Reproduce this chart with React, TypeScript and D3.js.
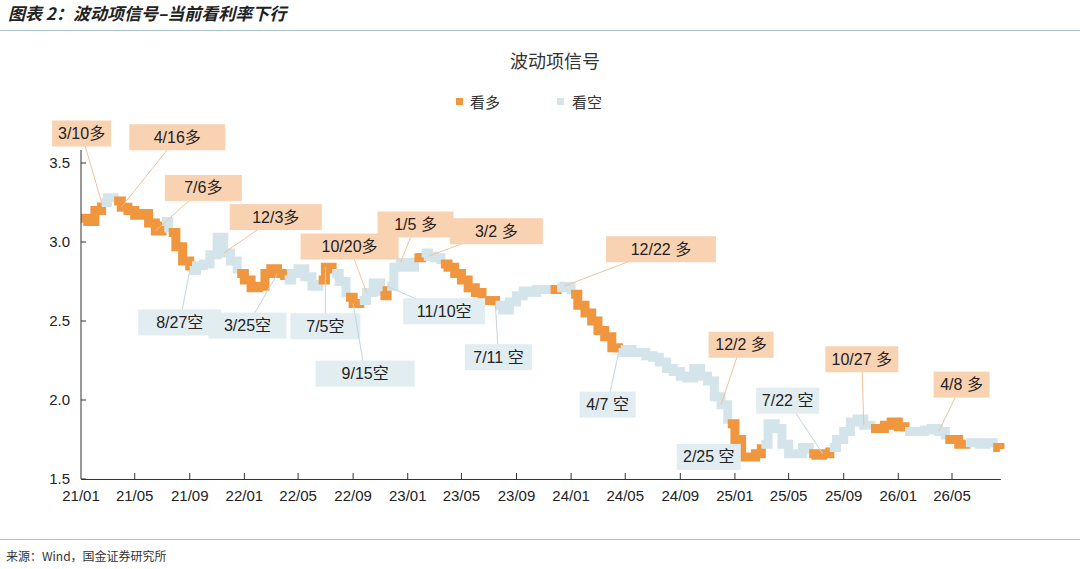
import * as d3 from "d3";

// half-month samples starting 2021-01-01 (1st and 16th of each month)
const rates = [
  3.15, 3.13, 3.2, 3.25, 3.28, 3.26, 3.22, 3.2, 3.17, 3.18, 3.12, 3.07, 3.13, 3.06, 2.97, 2.88,
  2.82, 2.85, 2.86, 2.92, 3.03, 2.93, 2.88, 2.8, 2.76, 2.71, 2.72, 2.8, 2.83, 2.8, 2.76, 2.8,
  2.83, 2.78, 2.72, 2.76, 2.84, 2.8, 2.75, 2.65, 2.61, 2.63, 2.68, 2.74, 2.66, 2.72, 2.84, 2.87,
  2.84, 2.9, 2.93, 2.91, 2.9, 2.86, 2.84, 2.8, 2.76, 2.71, 2.68, 2.63, 2.63, 2.6, 2.57, 2.62,
  2.66, 2.69, 2.68, 2.7, 2.7, 2.7, 2.71, 2.72, 2.67, 2.6, 2.55, 2.5, 2.44, 2.4, 2.33, 2.3,
  2.32, 2.3, 2.3, 2.28, 2.27, 2.24, 2.2, 2.18, 2.15, 2.14, 2.2, 2.15, 2.12, 2.02, 1.97, 1.85,
  1.75, 1.64, 1.64, 1.66, 1.72, 1.85, 1.82, 1.72, 1.66, 1.66, 1.7, 1.66, 1.65, 1.66, 1.7, 1.75,
  1.8, 1.86, 1.88, 1.84, 1.82, 1.82, 1.84, 1.86, 1.83, 1.8, 1.8, 1.8, 1.81, 1.82, 1.8, 1.75,
  1.75, 1.72, 1.73, 1.73, 1.72, 1.73, 1.7, 1.69,
];
const dates = rates.map((_, i) => new Date(2021, Math.floor(i / 2), i % 2 ? 16 : 1));

// signal switches: date and direction
const signalDates = [
  "2021-01-01", "2021-02-12", "2021-03-12", "2021-04-03", "2021-04-16", "2021-06-22", "2021-07-06",
  "2021-08-27", "2021-12-03", "2022-03-25", "2022-06-08", "2022-07-05", "2022-08-12", "2022-09-15",
  "2022-10-20", "2022-11-10", "2023-01-05", "2023-02-01", "2023-03-02", "2023-07-11", "2023-11-10",
  "2023-12-01", "2023-12-22", "2024-04-07", "2024-12-02", "2025-02-25", "2025-06-10", "2025-07-22",
  "2025-10-27", "2026-01-10", "2026-04-08", "2026-05-25", "2026-07-20",
];
const signalTypes = [
  "多", "空", "多", "空", "多", "空", "多", "空", "多", "空", "多", "空", "多", "空", "多", "空", "多",
  "空", "多", "空", "多", "空", "多", "空", "多", "空", "多", "空", "多", "空", "多", "空", "多",
];

// annotations: text, date anchored, box offset from anchor
const noteTexts = [
  "3/10多", "4/16多", "7/6多", "12/3多", "10/20多", "1/5 多", "3/2 多", "12/22 多", "12/2 多", "10/27 多", "4/8 多",
  "8/27空", "3/25空", "7/5空", "9/15空", "11/10空", "7/11 空", "4/7 空", "2/25 空", "7/22 空",
];
const noteDates = [
  "2021-02-16", "2021-04-01", "2021-06-16", "2021-11-16", "2022-10-01", "2022-12-16", "2023-02-16",
  "2023-12-16", "2024-12-01", "2025-10-16", "2026-04-01",
  "2021-09-01", "2022-03-16", "2022-07-01", "2022-09-01", "2022-11-16", "2023-07-16", "2024-04-16",
  "2025-02-01", "2025-07-16",
];
const noteOffsets: [number, number, number][] = [
  [-20, -69, 59], [56, -70, 96], [48, -43, 77], [52, -36, 92], [-17, -46, 98], [15, -38, 76], [68, -25, 93],
  [97, -37, 110], [20, -60, 65], [-2, -66, 73], [23, -47, 56],
  [-10, 52, 83], [-30, 52, 78], [0, 59, 70], [12, 70, 99], [57, 25, 82], [3, 52, 67], [-11, 52, 56],
  [-40, 0, 64], [-35, -53, 63],
];
const noteLeader = [1, 1, 1, 1, 1, 1, 1, 1, 1, 1, 1, 1, 1, 1, 1, 1, 1, 1, 0, 1];

const yTicks = [1.5, 2.0, 2.5, 3.0, 3.5];
const xTickLabels = [
  "21/01", "21/05", "21/09", "22/01", "22/05", "22/09", "23/01", "23/05", "23/09",
  "24/01", "24/05", "24/09", "25/01", "25/05", "25/09", "26/01", "26/05",
];

const ORANGE = "#F0963E";
const BLUE = "#D3E4EA";
const ORANGE_BOX = "#F9D2B2";
const BLUE_BOX = "#E2EDF1";
const FONT = "'Liberation Sans', Arial, 'Noto Sans CJK SC', sans-serif";
const CJK = "'Noto Sans CJK SC', sans-serif";

export default function App() {
  const x = d3.scaleTime().domain([new Date(2021, 0, 1), new Date(2026, 4, 1)]).range([81, 952]);
  const y = d3.scaleLinear().domain([1.5, 3.5]).range([479, 163]);
  const sig = signalDates.map((s, i) => ({ t: new Date(s), type: signalTypes[i] }));
  const typeAt = (d: Date) => {
    let cur = sig[0].type;
    for (const s of sig) if (s.t <= d) cur = s.type;
    return cur;
  };
  const pts = rates.map((v, i) => ({ d: dates[i], v, type: typeAt(dates[i]) }));
  const runs: { type: string; pts: typeof pts }[] = [];
  pts.forEach((p) => {
    const last = runs[runs.length - 1];
    if (!last || last.type !== p.type) {
      if (last) last.pts.push(p);
      runs.push({ type: p.type, pts: [p] });
    } else last.pts.push(p);
  });
  const line = d3.line<(typeof pts)[number]>().x((p) => x(p.d)).y((p) => y(p.v)).curve(d3.curveStepAfter);
  const xTicks = xTickLabels.map((_, i) => new Date(2021, i * 4, 1));
  const xEnd = x(new Date(2026, 7, 16)) + 1;

  return (
    <div style={{ position: "absolute", left: 0, top: 0 }}>
      <svg width={1080} height={569} style={{ display: "block", background: "#fff" }}>
        <text x={8} y={20} fontFamily={CJK} fontSize={17} fontStyle="italic" fontWeight="bold" fill="#222">
          图表 2：波动项信号–当前看利率下行
        </text>
        <line x1={0} x2={1080} y1={30.5} y2={30.5} stroke="#A7C3CB" strokeWidth={1.2} />
        <text x={555} y={68} textAnchor="middle" fontFamily={CJK} fontSize={18} fill="#333">波动项信号</text>
        <rect x={456} y={98} width={7} height={7} fill={ORANGE} />
        <text x={470} y={108} fontFamily={CJK} fontSize={15} fill="#333">看多</text>
        <rect x={557} y={98} width={7} height={7} fill={BLUE} />
        <text x={572} y={108} fontFamily={CJK} fontSize={15} fill="#333">看空</text>

        {runs.map((r, i) => (
          <path key={i} d={line(r.pts) ?? ""} fill="none" stroke={r.type === "多" ? ORANGE : BLUE}
            strokeWidth={9} strokeLinejoin="miter" />
        ))}

        {noteTexts.map((t, i) => {
          const nd = new Date(noteDates[i]);
          const idx = d3.minIndex(dates, (d) => Math.abs(+d - +nd));
          const ax = x(dates[idx]);
          const ay = y(rates[idx]);
          const [dx, dy, w] = noteOffsets[i];
          const bull = t.includes("多");
          const cx = ax + dx;
          const cy = ay + dy;
          return (
            <g key={i}>
              {noteLeader[i] ? (
                <line x1={ax} y1={ay} x2={cx} y2={cy} stroke={bull ? "#F3C29C" : "#BFD6DE"} strokeWidth={1} />
              ) : null}
              <rect x={cx - w / 2} y={cy - 13} width={w} height={26} fill={bull ? ORANGE_BOX : BLUE_BOX} />
              <text x={cx} y={cy + 5.5} textAnchor="middle" fontFamily={FONT} fontSize={16} fill="#222">{t}</text>
            </g>
          );
        })}

        <line x1={81} x2={81} y1={150} y2={479} stroke="#333" />
        <line x1={81} x2={xEnd} y1={479.5} y2={479.5} stroke="#333" />
        {yTicks.map((t) => (
          <g key={t}>
            <line x1={81} x2={86} y1={y(t)} y2={y(t)} stroke="#333" />
            <text x={70} y={y(t) + 5} textAnchor="end" fontFamily={FONT} fontSize={15} fill="#222">{t.toFixed(1)}</text>
          </g>
        ))}
        {xTicks.map((d, i) => (
          <g key={i}>
            {i > 0 && <line x1={x(d)} x2={x(d)} y1={479} y2={473} stroke="#333" />}
            <text x={x(d)} y={501} textAnchor="middle" fontFamily={FONT} fontSize={15} fill="#222">{xTickLabels[i]}</text>
          </g>
        ))}

        <line x1={0} x2={1080} y1={539.5} y2={539.5} stroke="#A7C3CB" strokeWidth={1.2} />
        <text x={6} y={561} fontFamily={CJK} fontSize={12} fill="#333">来源：Wind，国金证券研究所</text>
      </svg>
    </div>
  );
}
